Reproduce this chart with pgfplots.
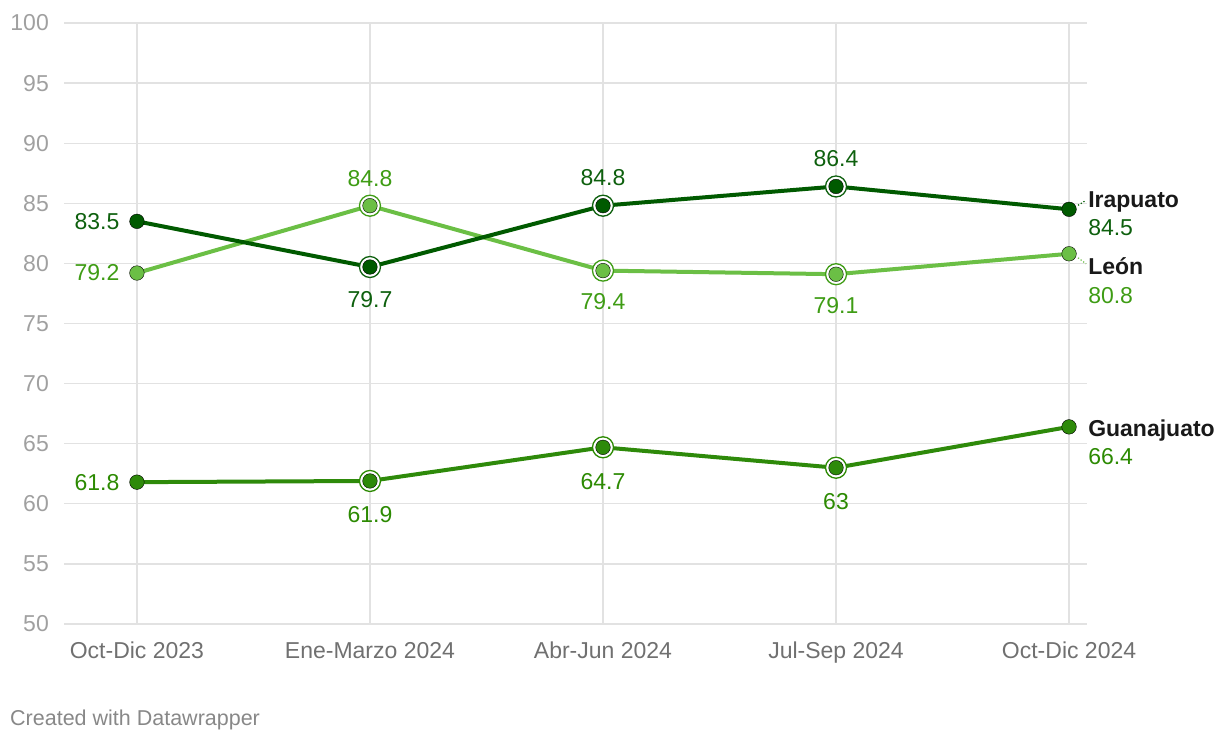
\documentclass[border=0pt]{standalone}
\usepackage{fontspec}
\setmainfont{Liberation Sans}
\usepackage{pgfplots}
\pgfplotsset{compat=1.18}
\usepackage{pgfplotstable}

\definecolor{ira}{HTML}{005A00}
\definecolor{iralab}{HTML}{0E600E}
\definecolor{leon}{HTML}{6BBF45}
\definecolor{leonlab}{HTML}{3E9C14}
\definecolor{gua}{HTML}{2E8A0A}
\definecolor{gualab}{HTML}{2C8A02}
\definecolor{gridc}{HTML}{E2E2E2}
\definecolor{ytc}{HTML}{A0A0A0}
\definecolor{xtc}{HTML}{707070}
\definecolor{credit}{HTML}{888888}

\pgfplotstableread{
x y
0 83.5
1 79.7
2 84.8
3 86.4
4 84.5
}\ira

\pgfplotstableread{
x y
0 79.2
1 84.8
2 79.4
3 79.1
4 80.8
}\leon

\pgfplotstableread{
x y
0 61.8
1 61.9
2 64.7
3 63.0
4 66.4
}\gua

\newcommand{\fs}{\fontsize{23bp}{27bp}\selectfont}

\pgfplotsset{
  vlab/.style n args={3}{draw=none, mark=none, nodes near coords, point meta=explicit,
    every node near coord/.append style={anchor=center, text=#1, font=\fs, inner sep=0pt, xshift=#2, yshift=#3}},
  ring/.style={only marks, mark=*, mark size=10.5bp, mark options={draw=#1, fill=white, line width=1.3bp}, restrict x to domain=1:3},
  dot/.style={only marks, mark=*, mark size=7.3bp, mark options={draw=none, fill=#1}},
  ln/.style={#1, line width=4bp, mark=none},
}

\begin{document}
\begin{tikzpicture}
\path[use as bounding box] (0,0) rectangle (1220bp,740bp);
\begin{axis}[
  at={(64bp,116bp)}, anchor=south west,
  scale only axis, width=1023bp, height=601bp,
  xmin=-0.313, xmax=4.077, ymin=50, ymax=100,
  xtick={0,1,2,3,4},
  xticklabels={Oct-Dic 2023, Ene-Marzo 2024, Abr-Jun 2024, Jul-Sep 2024, Oct-Dic 2024},
  ytick={50,55,...,100},
  axis line style={draw=none},
  major tick length=0pt,
  xmajorgrids, ymajorgrids,
  grid style={gridc, line width=1.3bp},
  /pgf/number format/assume math mode=true,
  yticklabel style={font=\fs, text=ytc, anchor=east, inner sep=0pt, xshift=-15bp},
  xticklabel style={font=\fs, text=xtc, anchor=north, inner sep=0pt, yshift=-18bp},
  clip=false,
]
% ---- León
\addplot[ln=leon] table[x=x,y=y] {\leon};
\addplot[ring=leonlab] table[x=x,y=y] {\leon};
\addplot[dot=leon] table[x=x,y=y] {\leon};
\addplot[vlab={leonlab}{-40bp}{0bp}, restrict x to domain=0:0] table[x=x,y=y,meta=y] {\leon};
\addplot[vlab={leonlab}{0bp}{27bp}, restrict x to domain=1:1] table[x=x,y=y,meta=y] {\leon};
\addplot[vlab={leonlab}{0bp}{-31bp}, restrict x to domain=2:3] table[x=x,y=y,meta=y] {\leon};
% ---- Guanajuato
\addplot[ln=gua] table[x=x,y=y] {\gua};
\addplot[ring=gualab] table[x=x,y=y] {\gua};
\addplot[dot=gua] table[x=x,y=y] {\gua};
\addplot[vlab={gualab}{-40bp}{0bp}, restrict x to domain=0:0] table[x=x,y=y,meta=y] {\gua};
\addplot[vlab={gualab}{0bp}{-34bp}, restrict x to domain=1:3] table[x=x,y=y,meta=y] {\gua};
% ---- Irapuato
\addplot[ln=ira] table[x=x,y=y] {\ira};
\addplot[ring=iralab] table[x=x,y=y] {\ira};
\addplot[dot=ira] table[x=x,y=y] {\ira};
\addplot[vlab={iralab}{-40bp}{0bp}, restrict x to domain=0:0] table[x=x,y=y,meta=y] {\ira};
\addplot[vlab={iralab}{0bp}{-33bp}, restrict x to domain=1:1] table[x=x,y=y,meta=y] {\ira};
\addplot[vlab={iralab}{0bp}{28bp}, restrict x to domain=2:3] table[x=x,y=y,meta=y] {\ira};

% end labels
\draw[ira, dotted, line width=1.2bp] (axis cs:4,84.5) ++(9bp,4bp) -- ++(8bp,5bp);
\draw[leon, dotted, line width=1.2bp] (axis cs:4,80.8) ++(9bp,-4bp) -- ++(8bp,-6bp);
\node[anchor=base west, inner sep=0pt, font=\fs\bfseries, text=black!90] at ([xshift=19bp,yshift=1.7bp]axis cs:4,84.5) {Irapuato};
\node[anchor=base west, inner sep=0pt, font=\fs, text=iralab] at ([xshift=19bp,yshift=-26.3bp]axis cs:4,84.5) {84.5};
\node[anchor=base west, inner sep=0pt, font=\fs\bfseries, text=black!90] at ([xshift=19bp,yshift=-20.3bp]axis cs:4,80.8) {León};
\node[anchor=base west, inner sep=0pt, font=\fs, text=leonlab] at ([xshift=19bp,yshift=-49.3bp]axis cs:4,80.8) {80.8};
\node[anchor=base west, inner sep=0pt, font=\fs\bfseries, text=black!90] at ([xshift=19bp,yshift=-9.3bp]axis cs:4,66.4) {Guanajuato};
\node[anchor=base west, inner sep=0pt, font=\fs, text=gualab] at ([xshift=19bp,yshift=-37.3bp]axis cs:4,66.4) {66.4};
\end{axis}
\node[anchor=base west, inner sep=0pt, text=credit, font=\fontsize{21.5bp}{25bp}\selectfont] at (10bp,15bp) {Created with Datawrapper};
\end{tikzpicture}
\end{document}
